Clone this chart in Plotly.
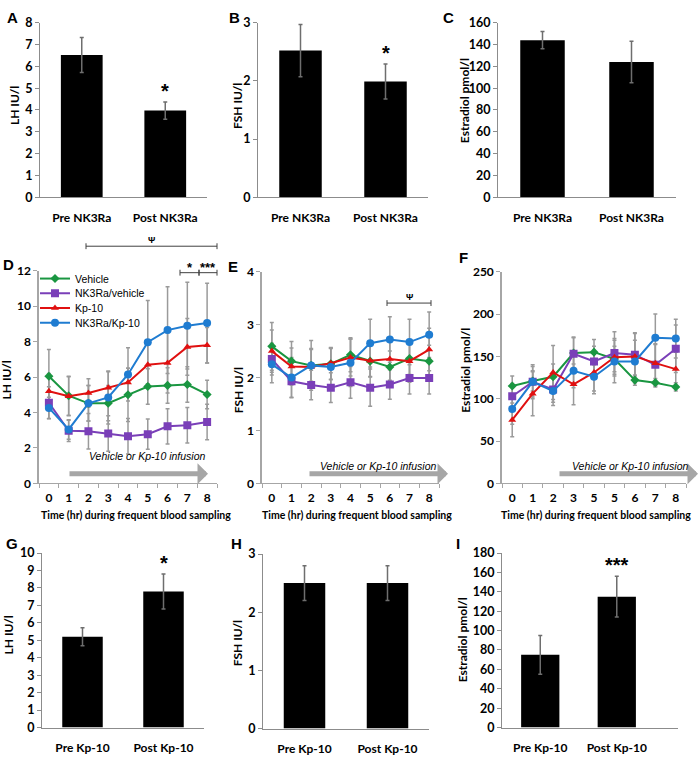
import plotly.graph_objects as go

W, H = 700, 761

# ---------------- data ----------------
bar_cats_nk = ["Pre NK3Ra", "Post NK3Ra"]
bar_cats_kp = ["Pre Kp-10", "Post Kp-10"]

lh_nk = [6.52, 3.97]
lh_nk_err = [0.8, 0.4]
fsh_nk = [2.52, 1.99]
fsh_nk_err = [0.45, 0.3]
e2_nk = [144, 124]
e2_nk_err = [8, 19]

lh_kp = [5.2, 7.8]
lh_kp_err = [0.52, 1.0]
fsh_kp = [2.5, 2.5]
fsh_kp_err = [0.3, 0.3]
e2_kp = [75, 135]
e2_kp_err = [20, 21]

hours = [0, 1, 2, 3, 4, 5, 6, 7, 8]
time_labels_de = ["0", "1", "2", "3", "4", "5", "6", "7", "8"]
time_labels_f = ["0", "1", "2", "3", "5", "5", "6", "7", "8"]

groups = ["Vehicle", "NK3Ra/vehicle", "Kp-10", "NK3Ra/Kp-10"]

lh_vehicle = [6.05, 4.95, 4.52, 4.53, 5.0, 5.47, 5.53, 5.58, 5.02]
lh_vehicle_err = [1.5, 1.1, 1.0, 1.0, 1.5, 1.0, 1.0, 1.0, 0.8]
lh_nk3ra_vehicle = [4.55, 2.97, 2.95, 2.82, 2.66, 2.78, 3.22, 3.28, 3.47]
lh_nk3ra_vehicle_err = [0.9, 0.6, 1.0, 1.0, 1.0, 0.85, 1.0, 1.0, 1.0]
lh_kp10 = [5.2, 4.92, 5.1, 5.4, 5.7, 6.7, 6.8, 7.7, 7.8]
lh_kp10_err = [1.0, 1.1, 0.8, 0.9, 0.8, 1.2, 1.7, 1.6, 1.0]
lh_nk3ra_kp10 = [4.26, 3.05, 4.52, 4.85, 6.15, 7.97, 8.65, 8.9, 9.05]
lh_nk3ra_kp10_err = [0.6, 0.55, 1.0, 1.5, 1.5, 2.35, 2.45, 2.45, 2.25]

fsh_vehicle = [2.59, 2.31, 2.23, 2.26, 2.43, 2.31, 2.2, 2.36, 2.31]
fsh_vehicle_err = [0.45, 0.37, 0.3, 0.3, 0.32, 0.3, 0.3, 0.3, 0.3]
fsh_nk3ra_vehicle = [2.35, 1.93, 1.86, 1.81, 1.91, 1.81, 1.87, 1.99, 1.99]
fsh_nk3ra_vehicle_err = [0.3, 0.3, 0.28, 0.28, 0.3, 0.35, 0.28, 0.3, 0.3]
fsh_kp10 = [2.5, 2.21, 2.2, 2.27, 2.38, 2.32, 2.35, 2.31, 2.53]
fsh_kp10_err = [0.4, 0.35, 0.35, 0.3, 0.35, 0.3, 0.4, 0.4, 0.4]
fsh_nk3ra_kp10 = [2.25, 2.0, 2.23, 2.2, 2.28, 2.65, 2.72, 2.67, 2.81]
fsh_nk3ra_kp10_err = [0.35, 0.38, 0.47, 0.35, 0.45, 0.45, 0.43, 0.43, 0.43]

e2_vehicle = [115, 121, 126, 154, 155, 147, 122, 119, 114]
e2_vehicle_err = [12, 12, 15, 18, 15, 15, 6, 5, 5]
e2_nk3ra_vehicle = [103, 120, 111, 153, 144, 154, 152, 140, 159]
e2_nk3ra_vehicle_err = [15, 20, 15, 20, 18, 25, 25, 25, 28]
e2_kp10 = [75, 106, 131, 117, 131, 149, 150, 142, 135]
e2_kp10_err = [20, 26, 32, 24, 22, 22, 28, 22, 20]
e2_nk3ra_kp10 = [88, 120, 109, 133, 126, 144, 144, 172, 171]
e2_nk3ra_kp10_err = [18, 18, 17, 20, 20, 25, 25, 28, 23]

# ---------------- styles ----------------
colors = ["#1a9641", "#7a3fb8", "#e01010", "#1f7cd1"]
symbols = ["diamond", "square", "triangle-up", "circle"]
msizes = [7, 8, 7, 8]
BOLD = "Lato"
ARIAL = "Liberation Sans"
legend_ids = ["legend", "legend2", "legend3", "legend4"]


def px(x):
    return x / W


def py(y):
    return 1 - y / H


def dom_x(a, b):
    return [a / W, b / W]


def dom_y(top, bottom):
    return [1 - bottom / H, 1 - top / H]


fig = go.Figure()
annotations = []
shapes = []

bar_panels = [
    ("", (40, 207), (15, 193), 8, 1, bar_cats_nk, lh_nk, lh_nk_err, 1.5),
    ("2", (258, 428), (15, 193), 3, 1, bar_cats_nk, fsh_nk, fsh_nk_err, 1.5),
    ("3", (498, 676), (15, 193), 160, 20, bar_cats_nk, e2_nk, e2_nk_err, 1.5),
    ("7", (42, 204), (556, 734), 10, 1, bar_cats_kp, lh_kp, lh_kp_err, 1.5),
    ("8", (263, 429), (557, 735), 3, 1, bar_cats_kp, fsh_kp, fsh_kp_err, 1.5),
    ("9", (502, 678), (556, 734), 180, 20, bar_cats_kp, e2_kp, e2_kp_err, 1.8),
]

layout_axes = {}
for suf, xd, yd, ymax, dt, cats, vals, errs, xmax in bar_panels:
    fig.add_trace(go.Bar(
        x=[0, 1], y=vals, width=0.5, marker=dict(color="black", line=dict(width=0)),
        error_y=dict(type="data", array=errs, color="#6e6e6e", thickness=1.5, width=2),
        xaxis="x" + suf, yaxis="y" + suf, showlegend=False))
    layout_axes["xaxis" + suf] = dict(
        domain=dom_x(*xd), anchor="y" + suf, range=[-0.5, xmax],
        tickvals=[0, 1], ticktext=cats, ticks="", showline=True, linecolor="#8c8c8c",
        linewidth=1, showgrid=False, zeroline=False, ticklabelstandoff=9,
        tickfont=dict(family=BOLD, size=12, color="black", weight="bold"))
    layout_axes["yaxis" + suf] = dict(
        domain=dom_y(*yd), anchor="x" + suf, range=[0, ymax], dtick=dt, tick0=0,
        ticks="outside", ticklen=4, tickcolor="#8c8c8c", showline=True, linecolor="#8c8c8c",
        linewidth=1, showgrid=False, zeroline=False,
        tickfont=dict(family=BOLD, size=12.5, color="black", weight="bold"))

line_panels = [
    ("4", (39, 217), (268, 485), 12, 2, time_labels_de,
     [lh_vehicle, lh_nk3ra_vehicle, lh_kp10, lh_nk3ra_kp10],
     [lh_vehicle_err, lh_nk3ra_vehicle_err, lh_kp10_err, lh_nk3ra_kp10_err], True),
    ("5", (262, 439), (269, 485), 4, 1, time_labels_de,
     [fsh_vehicle, fsh_nk3ra_vehicle, fsh_kp10, fsh_nk3ra_kp10],
     [fsh_vehicle_err, fsh_nk3ra_vehicle_err, fsh_kp10_err, fsh_nk3ra_kp10_err], False),
    ("6", (502, 686), (269, 485), 250, 50, time_labels_f,
     [e2_vehicle, e2_nk3ra_vehicle, e2_kp10, e2_nk3ra_kp10],
     [e2_vehicle_err, e2_nk3ra_vehicle_err, e2_kp10_err, e2_nk3ra_kp10_err], False),
]

for suf, xd, yd, ymax, dt, tlabels, series, errs, leg in line_panels:
    for i in range(4):
        fig.add_trace(go.Scatter(
            x=hours, y=series[i], mode="markers", marker=dict(size=1, opacity=0),
            error_y=dict(type="data", array=errs[i], color="#9a9a9a", thickness=1.5, width=2),
            xaxis="x" + suf, yaxis="y" + suf, showlegend=False, hoverinfo="skip"))
    for i in range(4):
        fig.add_trace(go.Scatter(
            x=hours, y=series[i], mode="lines+markers", name=groups[i],
            line=dict(color=colors[i], width=2),
            marker=dict(color=colors[i], symbol=symbols[i], size=msizes[i]),
            xaxis="x" + suf, yaxis="y" + suf, showlegend=leg, legend=legend_ids[i]))
    layout_axes["xaxis" + suf] = dict(
        domain=dom_x(*xd), anchor="y" + suf, range=[-0.5, 8.5],
        tickmode="array", tickvals=hours, ticktext=tlabels, ticks="",
        minor=dict(tickmode="array", tickvals=[h - 0.5 for h in hours] + [8.5],
                   ticks="outside", ticklen=4, tickcolor="#a6a6a6"),
        showline=True, linecolor="#a6a6a6", linewidth=1, showgrid=False, zeroline=False,
        ticklabelstandoff=3,
        tickfont=dict(family=BOLD, size=12, color="black", weight="bold"))
    layout_axes["yaxis" + suf] = dict(
        domain=dom_y(*yd), anchor="x" + suf, range=[0, ymax], dtick=dt, tick0=0,
        ticks="outside", ticklen=4, tickcolor="#a6a6a6", showline=True, linecolor="#a6a6a6",
        linewidth=1.5, showgrid=False, zeroline=False,
        tickfont=dict(family=BOLD, size=12, color="black", weight="bold"))


def text(x, y, s, size=12, bold=True, family=BOLD, angle=0, italic=False, color="black"):
    annotations.append(dict(
        x=px(x), y=py(y), xref="paper", yref="paper", text=s, showarrow=False,
        textangle=angle, xanchor="center", yanchor="middle",
        font=dict(family=family, size=size, color=color,
                  weight="bold" if bold else "normal",
                  style="italic" if italic else "normal")))


for letter, x, y in [("A", 12, 10), ("B", 235, 10), ("C", 448, 10),
                     ("D", 8, 262), ("E", 233, 264), ("F", 463, 255),
                     ("G", 12, 546), ("H", 236, 546), ("I", 458, 546)]:
    text(x, y, letter, size=15, family=ARIAL)

for s, x, y in [("LH IU/l", 14, 100), ("FSH IU/l", 237, 100), ("Estradiol pmol/l", 464, 94),
                ("LH IU/l", 7, 380), ("FSH IU/l", 238, 390), ("Estradiol pmol/l", 466, 370),
                ("LH IU/l", 8, 640), ("FSH IU/l", 237, 648), ("Estradiol pmol/l", 462, 645)]:
    text(x, y, s, size=12, angle=-90)

for x in [136, 357, 596]:
    text(x, 517, "Time (hr) during frequent blood sampling", size=10.5)

for (x0, x1, xt, yt) in [(68, 208, 147, 457), (308, 448, 378, 467), (558, 698, 630, 467)]:
    annotations.append(dict(
        x=px(x1), y=py(475), ax=x0 - x1, ay=0, xref="paper", yref="paper",
        axref="pixel", ayref="pixel", showarrow=True, arrowhead=1, arrowsize=0.7,
        arrowwidth=5, arrowcolor="#a6a6a6", text=""))
    text(xt, yt, "Vehicle or Kp-10 infusion", size=10.5, bold=False, family=ARIAL, italic=True)


def bracket(x0, x1, y, label, size=10, ty=None):
    c = "#404040"
    shapes.append(dict(type="line", xref="paper", yref="paper", x0=px(x0), x1=px(x1),
                       y0=py(y), y1=py(y), line=dict(color=c, width=1)))
    for xx in (x0, x1):
        shapes.append(dict(type="line", xref="paper", yref="paper", x0=px(xx), x1=px(xx),
                           y0=py(y - 3), y1=py(y + 3), line=dict(color=c, width=1)))
    text((x0 + x1) / 2, ty if ty is not None else y - 6, label, size=size, family=ARIAL)


bracket(86, 217, 243, "Ψ", size=9)
bracket(180, 199, 270, "*", size=13, ty=265)
bracket(199, 217, 270, "***", size=13, ty=265)
bracket(387, 431, 301, "Ψ", size=9)

for suf, xi, yv, lab in [("", 1, lh_nk[1] + lh_nk_err[1], "*"),
                         ("2", 1, fsh_nk[1] + fsh_nk_err[1], "*"),
                         ("7", 1, lh_kp[1] + lh_kp_err[1], "*"),
                         ("9", 1, e2_kp[1] + e2_kp_err[1], "***")]:
    annotations.append(dict(
        x=xi, y=yv, xref="x" + suf, yref="y" + suf, text=lab, showarrow=False,
        yanchor="bottom", yshift=-2, font=dict(family=ARIAL, size=20, color="black", weight="bold")))

legends = {}
for i, lid in enumerate(legend_ids):
    legends[lid] = dict(x=px(35), y=py(276 + 15 * i), xanchor="left", yanchor="middle",
                        bgcolor="rgba(0,0,0,0)", itemwidth=30, borderwidth=0,
                        font=dict(family=ARIAL, size=10.5, color="black"))

fig.update_layout(
    width=W, height=H, margin=dict(l=0, r=0, t=0, b=0),
    paper_bgcolor="white", plot_bgcolor="white",
    annotations=annotations, shapes=shapes,
    **legends, **layout_axes)

fig.write_html("out.html", config={"displayModeBar": False},
               post_script="document.body.style.margin='0';")
